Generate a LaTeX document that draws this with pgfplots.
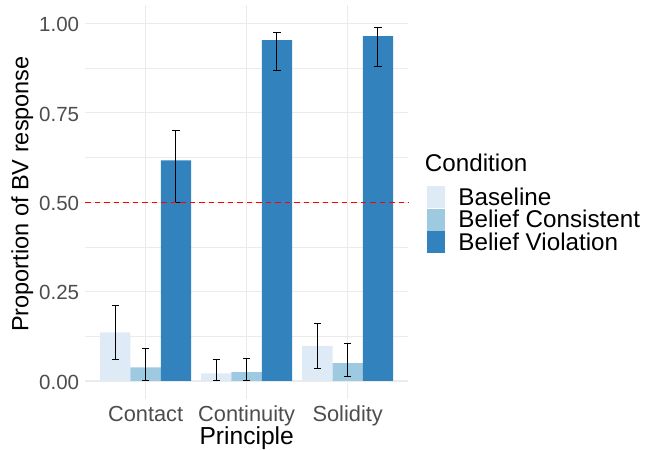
\documentclass[border=0pt]{standalone}
\usepackage{pgfplots}
\usepackage{pgfplotstable}
\pgfplotsset{compat=1.18}
\usepackage{fontspec}
\setmainfont{Liberation Sans}
\definecolor{cBase}{HTML}{DEEBF7}
\definecolor{cCons}{HTML}{9ECAE1}
\definecolor{cViol}{HTML}{3182BD}
\definecolor{gridc}{HTML}{EBEBEB}
\definecolor{tickc}{HTML}{4D4D4D}
\pgfplotstableread{
x y ep em
1 0.136 0.076 0.075
2 0.021 0.040 0.021
3 0.098 0.064 0.062
}\tbase
\pgfplotstableread{
x y ep em
1 0.038 0.053 0.038
2 0.025 0.039 0.025
3 0.050 0.054 0.038
}\tcons
\pgfplotstableread{
x y ep em
1 0.617 0.084 0.117
2 0.953 0.022 0.085
3 0.964 0.023 0.084
}\tviol
\pgfplotsset{errstyle/.style={error bars/.cd, y dir=both, y explicit, error mark=-,
  error bar style={black, line width=1bp},
  error mark options={black, line width=1bp, mark size=3.6bp, rotate=90}}}
\begin{document}
\begin{tikzpicture}
\useasboundingbox (0,0) rectangle (645bp,450bp);
\begin{axis}[
  at={(85bp,51.1bp)}, anchor=south west,
  scale only axis, width=323.3bp, height=393.9bp,
  clip=false,
  xmin=0.4, xmax=3.6, ymin=-0.0501, ymax=1.0511,
  ybar, bar width=0.3,
  xtick={1,2,3}, xticklabels={Contact,Continuity,Solidity},
  ytick={0,0.25,0.5,0.75,1}, yticklabels={0.00,0.25,0.50,0.75,1.00},
  minor ytick={0.125,0.375,0.625,0.875},
  xmajorgrids, ymajorgrids, yminorgrids,
  major grid style={draw=gridc, line width=1.1bp},
  minor grid style={draw=gridc, line width=0.55bp},
  axis line style={draw=none},
  major tick length=0pt, minor tick length=0pt,
  tick style={draw=none},
  ticklabel style={text=tickc, inner sep=0pt},
  yticklabel style={font=\fontsize{20.5bp}{24bp}\selectfont, anchor=base east, xshift=-5.7bp, yshift=-8.4bp},
  xticklabel style={font=\fontsize{21.8bp}{25bp}\selectfont, anchor=base, yshift=-22.8bp},
  xlabel={Principle},
  ylabel={Proportion of BV response},
  xlabel style={at={(axis description cs:0.5002,-0.1170)}, anchor=base, inner sep=0pt, font=\fontsize{24.6bp}{28bp}\selectfont},
  ylabel style={at={(axis description cs:-0.1754,0.5202)}, anchor=base, inner sep=0pt, font=\fontsize{23.5bp}{27bp}\selectfont},
  legend cell align=left,
  legend style={at={(axis description cs:1.0569,0.5407)}, anchor=north west, draw=none, fill=none, inner sep=0pt, row sep=0pt,
    font=\fontsize{24.2bp}{28bp}\selectfont,
    nodes={inner sep=0pt, text height=19.1bp, text depth=3.4bp},
    /tikz/every odd column/.append style={column sep=13.3bp}},
  legend image code/.code={\fill[#1] (0bp,-11bp) rectangle (18.3bp,11bp);},
]
\addplot[fill=cBase, draw=none, bar shift=-0.3, errstyle]
  table[x=x, y=y, y error plus=ep, y error minus=em] {\tbase};
\addplot[fill=cCons, draw=none, bar shift=0, errstyle]
  table[x=x, y=y, y error plus=ep, y error minus=em] {\tcons};
\addplot[fill=cViol, draw=none, bar shift=0.3, errstyle]
  table[x=x, y=y, y error plus=ep, y error minus=em] {\tviol};
\addplot[sharp plot, red, line width=0.9bp, dash pattern=on 5.5bp off 4bp, forget plot] coordinates {(0.4,0.5) (3.6,0.5)};
\legend{Baseline, Belief Consistent, Belief Violation}
\node[anchor=base west, inner sep=0pt, font=\fontsize{24.2bp}{28bp}\selectfont] at (axis description cs:1.0510,0.5768) {Condition};
\end{axis}
\end{tikzpicture}
\end{document}
